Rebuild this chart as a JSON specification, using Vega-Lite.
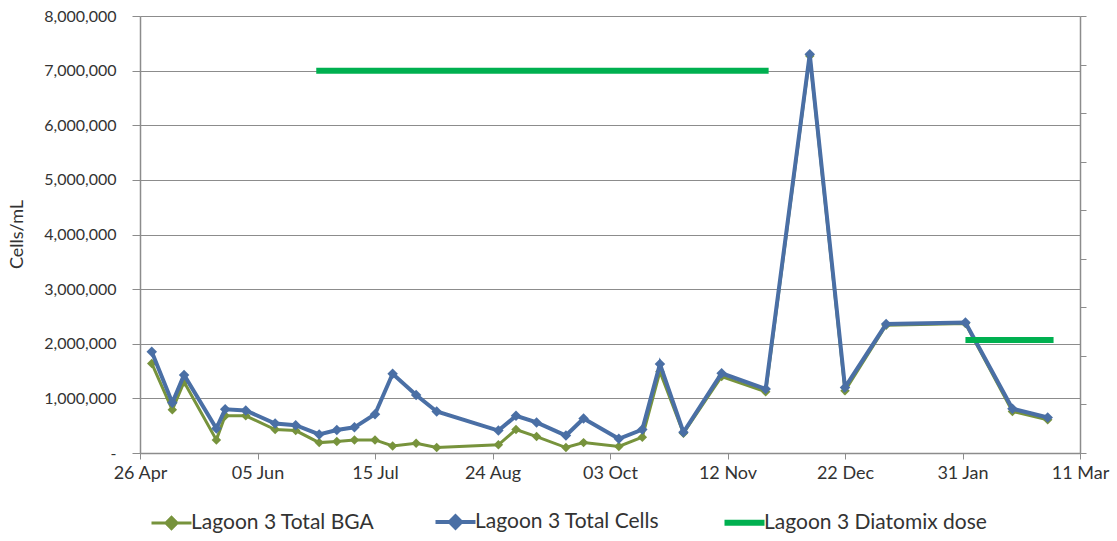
{
  "$schema": "https://vega.github.io/schema/vega-lite/v6.json",
  "width": 940,
  "height": 437,
  "autosize": "none",
  "padding": {"left": 140, "top": 16, "right": 37, "bottom": 88},
  "background": "white",
  "config": {
    "font": "Lato",
    "view": {"stroke": null},
    "axis": {
      "labelFont": "Lato",
      "titleFont": "Lato",
      "labelColor": "#333333",
      "titleColor": "#333333",
      "domainColor": "#8c8c8c",
      "tickColor": "#8c8c8c",
      "gridColor": "#8c8c8c",
      "gridWidth": 1,
      "domainWidth": 1.5
    }
  },
  "datasets": {
    "counts": [
      {"date": "2011-04-30T00:00:00", "bga": 1640000, "cells": 1855000},
      {"date": "2011-05-07T00:00:00", "bga": 790000, "cells": 920000},
      {"date": "2011-05-11T00:00:00", "bga": 1300000, "cells": 1430000},
      {"date": "2011-05-22T00:00:00", "bga": 240000, "cells": 450000},
      {"date": "2011-05-25T00:00:00", "bga": 680000, "cells": 800000},
      {"date": "2011-06-01T00:00:00", "bga": 680000, "cells": 780000},
      {"date": "2011-06-11T00:00:00", "bga": 430000, "cells": 540000},
      {"date": "2011-06-18T00:00:00", "bga": 410000, "cells": 510000},
      {"date": "2011-06-26T00:00:00", "bga": 190000, "cells": 340000},
      {"date": "2011-07-02T00:00:00", "bga": 210000, "cells": 420000},
      {"date": "2011-07-08T00:00:00", "bga": 240000, "cells": 470000},
      {"date": "2011-07-15T00:00:00", "bga": 240000, "cells": 710000},
      {"date": "2011-07-21T00:00:00", "bga": 130000, "cells": 1450000},
      {"date": "2011-07-29T00:00:00", "bga": 180000, "cells": 1060000},
      {"date": "2011-08-05T00:00:00", "bga": 100000, "cells": 760000},
      {"date": "2011-08-26T00:00:00", "bga": 150000, "cells": 410000},
      {"date": "2011-09-01T00:00:00", "bga": 430000, "cells": 680000},
      {"date": "2011-09-08T00:00:00", "bga": 300000, "cells": 560000},
      {"date": "2011-09-18T00:00:00", "bga": 100000, "cells": 320000},
      {"date": "2011-09-24T00:00:00", "bga": 190000, "cells": 630000},
      {"date": "2011-10-06T00:00:00", "bga": 120000, "cells": 260000},
      {"date": "2011-10-14T00:00:00", "bga": 290000, "cells": 430000},
      {"date": "2011-10-20T00:00:00", "bga": 1490000, "cells": 1630000},
      {"date": "2011-10-28T00:00:00", "bga": 360000, "cells": 380000},
      {"date": "2011-11-10T00:00:00", "bga": 1400000, "cells": 1460000},
      {"date": "2011-11-25T00:00:00", "bga": 1120000, "cells": 1170000},
      {"date": "2011-12-10T00:00:00", "bga": 7270000, "cells": 7300000},
      {"date": "2011-12-22T00:00:00", "bga": 1140000, "cells": 1200000},
      {"date": "2012-01-05T00:00:00", "bga": 2340000, "cells": 2360000},
      {"date": "2012-02-01T00:00:00", "bga": 2370000, "cells": 2390000},
      {"date": "2012-02-17T00:00:00", "bga": 760000, "cells": 810000},
      {"date": "2012-02-29T00:00:00", "bga": 610000, "cells": 650000}
    ],
    "dose": [
      {"date": "2011-06-25T00:00:00", "dose": 7000000, "period": 1},
      {"date": "2011-11-26T00:00:00", "dose": 7000000, "period": 1},
      {"date": "2012-02-01T00:00:00", "dose": 2070000, "period": 2},
      {"date": "2012-03-02T00:00:00", "dose": 2070000, "period": 2}
    ]
  },
  "encoding": {
    "x": {
      "field": "date",
      "type": "temporal",
      "title": null,
      "scale": {
        "domain": [
          {"year": 2011, "month": 4, "date": 26},
          {"year": 2012, "month": 3, "date": 11}
        ]
      },
      "axis": {
        "values": [
          {"year": 2011, "month": 4, "date": 26},
          {"year": 2011, "month": 6, "date": 5},
          {"year": 2011, "month": 7, "date": 15},
          {"year": 2011, "month": 8, "date": 24},
          {"year": 2011, "month": 10, "date": 3},
          {"year": 2011, "month": 11, "date": 12},
          {"year": 2011, "month": 12, "date": 22},
          {"year": 2012, "month": 1, "date": 31},
          {"year": 2012, "month": 3, "date": 11}
        ],
        "format": "%d %b",
        "grid": false,
        "labelFontSize": 18,
        "labelPadding": 5,
        "tickSize": 6,
        "labelFlush": false,
        "labelOverlap": false
      }
    }
  },
  "layer": [
    {
      "data": {"name": "counts"},
      "transform": [{"calculate": "'Lagoon 3 Total BGA'", "as": "series"}],
      "mark": {
        "type": "line",
        "strokeWidth": 3,
        "color": "#77933C",
        "point": {"shape": "diamond", "size": 90, "filled": true, "color": "#7A9A3A", "opacity": 1}
      },
      "encoding": {
        "y": {
          "field": "bga",
          "type": "quantitative",
          "title": "Cells/mL",
          "scale": {"domain": [0, 8000000], "nice": false},
          "axis": {
            "values": [0, 1000000, 2000000, 3000000, 4000000, 5000000, 6000000, 7000000, 8000000],
            "labelExpr": "datum.value == 0 ? '-' : format(datum.value, ',')",
            "labelFontSize": 16,
            "labelPadding": 16,
            "tickSize": 8,
            "grid": true,
            "titleFontSize": 18,
            "titleFontWeight": "normal",
            "titleX": -114,
            "titleY": 218
          }
        },
        "color": {
          "field": "series",
          "type": "nominal",
          "scale": {
            "domain": ["Lagoon 3 Total BGA", "Lagoon 3 Total Cells", "Lagoon 3 Diatomix dose"],
            "range": ["#77933C", "#4A6FA5", "#00B050"]
          },
          "legend": {
            "title": null,
            "orient": "none",
            "direction": "horizontal",
            "legendX": 21,
            "legendY": 495,
            "labelFontSize": 21,
            "labelLimit": 0,
            "labelColor": "#333333",
            "labelFont": "Lato",
            "symbolSize": 1600,
            "columnPadding": 52,
            "labelOffset": 9,
            "encode": {
              "symbols": {
                "update": {
                  "shape": {"signal": "datum.value === 'Lagoon 3 Diatomix dose' ? 'M-1,0H1' : 'M-1,0H1M-0.28,0L0,-0.28L0.28,0L0,0.28Z'"},
                  "fill": {"signal": "scale('color', datum.value)"},
                  "stroke": {"signal": "scale('color', datum.value)"},
                  "strokeWidth": {"signal": "datum.value === 'Lagoon 3 Diatomix dose' ? 6 : (datum.value === 'Lagoon 3 Total Cells' ? 4 : 3)"},
                  "opacity": {"value": 1}
                }
              }
            }
          }
        }
      }
    },
    {
      "data": {"name": "counts"},
      "transform": [{"calculate": "'Lagoon 3 Total Cells'", "as": "series"}],
      "mark": {
        "type": "line",
        "strokeWidth": 4,
        "color": "#4A6FA5",
        "point": {"shape": "diamond", "size": 110, "filled": true, "color": "#4F7FBF", "opacity": 1}
      },
      "encoding": {
        "y": {"field": "cells", "type": "quantitative", "axis": null},
        "color": {"field": "series", "type": "nominal"}
      }
    },
    {
      "data": {"name": "dose"},
      "transform": [{"calculate": "'Lagoon 3 Diatomix dose'", "as": "series"}],
      "mark": {"type": "line", "strokeWidth": 6, "color": "#00B050", "strokeCap": "butt"},
      "encoding": {
        "y": {
          "field": "dose",
          "type": "quantitative",
          "axis": {
            "orient": "right",
            "title": null,
            "labels": false,
            "grid": false,
            "tickSize": 6,
            "values": [0, 888889, 1777778, 2666667, 3555556, 4444444, 5333333, 6222222, 7111111, 8000000]
          }
        },
        "detail": {"field": "period", "type": "nominal"},
        "color": {"field": "series", "type": "nominal"}
      }
    }
  ],
  "resolve": {"axis": {"y": "independent"}}
}
